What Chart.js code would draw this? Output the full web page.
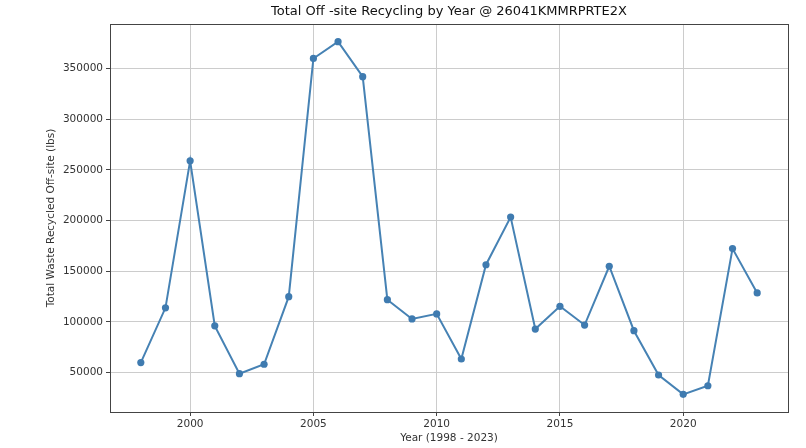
<!DOCTYPE html>
<html>
<head>
<meta charset="utf-8">
<script src="https://cdn.jsdelivr.net/npm/chart.js@4.4.1/dist/chart.umd.min.js"></script>
<style>
  html, body { margin: 0; padding: 0; background: #fff; }
  #wrap { width: 806px; height: 448px; }
</style>
</head>
<body>
<div id="wrap"><canvas id="grafico" width="806" height="448"></canvas></div>
<script>
const anos = [1998, 1999, 2000, 2001, 2002, 2003, 2004, 2005, 2006, 2007, 2008, 2009, 2010,
              2011, 2012, 2013, 2014, 2015, 2016, 2017, 2018, 2019, 2020, 2021, 2022, 2023];
const reciclado = [60000, 114000, 259000, 96200, 49000, 58300, 125000, 360000, 376600, 342000,
                   122000, 103000, 108000, 63500, 156500, 203500, 93000, 115500, 97000, 155000,
                   91400, 47700, 28600, 37100, 172400, 128700];
const ticksX = [2000, 2005, 2010, 2015, 2020];
const ticksY = [50000, 100000, 150000, 200000, 250000, 300000, 350000];

const titulo = 'Total Off -site Recycling by Year @ 26041KMMRPRTE2X';
const fonte = "'DejaVu Sans', sans-serif";

// margens de 5% como no matplotlib
const xMin = Math.min(...anos), xMax = Math.max(...anos);
const yMin = Math.min(...reciclado), yMax = Math.max(...reciclado);
const mx = (xMax - xMin) * 0.05, my = (yMax - yMin) * 0.05;

const moldura = {
    id: 'moldura',
    afterDraw(chart) {
        const { ctx, chartArea: a } = chart;
        ctx.save();
        ctx.strokeStyle = '#444';
        ctx.lineWidth = 1;
        ctx.strokeRect(Math.round(a.left) + 0.5, Math.round(a.top) + 0.5,
                       Math.round(a.right - a.left), Math.round(a.bottom - a.top));
        ctx.fillStyle = '#111';
        ctx.font = "13px " + fonte;
        ctx.textAlign = 'center';
        ctx.textBaseline = 'middle';
        ctx.fillText(titulo, (a.left + a.right) / 2, 12);
        ctx.restore();
    }
};

const ctx = document.getElementById('grafico').getContext('2d');

new Chart(ctx, {
    type: 'line',
    data: {
        datasets: [{
            label: 'Recycled',
            data: anos.map((a, i) => ({ x: a, y: reciclado[i] })),
            borderColor: '#4682b4',
            backgroundColor: '#3f7bb0',
            borderWidth: 2,
            pointRadius: 3.6,
            pointHoverRadius: 3.6,
            pointBorderWidth: 0,
            tension: 0
        }]
    },
    options: {
        responsive: false,
        animation: false,
        layout: { padding: { top: 24, right: 18, left: 0, bottom: 0 } },
        plugins: {
            legend: { display: false },
            title: { display: false },
            tooltip: { enabled: false }
        },
        scales: {
            x: {
                type: 'linear',
                min: xMin - mx,
                max: xMax + mx,
                afterBuildTicks: s => { s.ticks = ticksX.map(v => ({ value: v })); },
                ticks: {
                    color: '#333',
                    font: { family: fonte, size: 10.5 },
                    padding: 2,
                    maxRotation: 0,
                    callback: v => String(v)
                },
                grid: { color: '#cccccc', lineWidth: 1, tickLength: 4, tickColor: '#444' },
                border: { display: false },
                title: {
                    display: true,
                    text: 'Year (1998 - 2023)',
                    color: '#333',
                    font: { family: fonte, size: 10.5 },
                    padding: { top: 0, bottom: 3 }
                },
                afterFit: s => { s.height = 36; }
            },
            y: {
                min: yMin - my,
                max: yMax + my,
                afterBuildTicks: s => { s.ticks = ticksY.map(v => ({ value: v })); },
                ticks: {
                    color: '#333',
                    font: { family: fonte, size: 10.5 },
                    padding: 3,
                    callback: v => String(v)
                },
                grid: { color: '#cccccc', lineWidth: 1, tickLength: 4, tickColor: '#444' },
                border: { display: false },
                title: {
                    display: true,
                    text: 'Total Waste Recycled Off-site (lbs)',
                    color: '#333',
                    font: { family: fonte, size: 10.5 },
                    padding: { top: 45, bottom: 0 }
                },
                afterFit: s => { s.width = 110; }
            }
        }
    },
    plugins: [moldura]
});
</script>
</body>
</html>
